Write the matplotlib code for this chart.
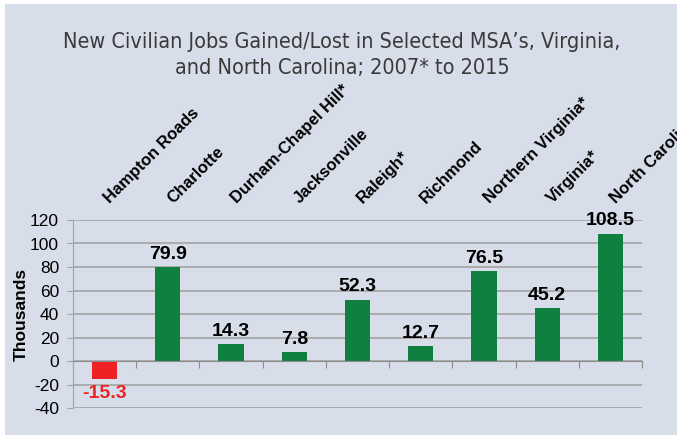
import numpy as np
import matplotlib
matplotlib.use('Agg')
import matplotlib.pyplot as plt
from matplotlib.patches import Rectangle
from matplotlib import font_manager

categories = ['Hampton Roads', 'Charlotte', 'Durham-Chapel Hill*', 'Jacksonville',
              'Raleigh*', 'Richmond', 'Northern Virginia*', 'Virginia*', 'North Carolina*']
values = [-15.3, 79.9, 14.3, 7.8, 52.3, 12.7, 76.5, 45.2, 108.5]
yticks = [-40, -20, 0, 20, 40, 60, 80, 100, 120]

BG = '#D8DDEA'
GREEN = '#108040'
RED = '#EE2124'
GRID = '#A3A3A3'

plt.rcParams['font.family'] = ['Liberation Sans', 'DejaVu Sans']

# narrow upright face for the title if one is installed
title_font = None
for f in font_manager.fontManager.ttflist:
    narrow = (f.stretch in ('condensed', 'semi-condensed', 'extra-condensed')
              or 'Narrow' in f.name or 'Condensed' in f.name)
    if narrow and f.style == 'normal' and f.weight in (400, 'normal', 'regular', 'book'):
        title_font = f
        break

fig = plt.figure(figsize=(6.77, 4.4), dpi=100)
fig.patch.set_facecolor('white')
fig.patches.append(Rectangle((5 / 677, 5 / 440), 1, 1 - 9 / 440, transform=fig.transFigure,
                             facecolor=BG, edgecolor='none', zorder=-10))

ax = fig.add_axes([73 / 677, 32 / 440, 569 / 677, 188 / 440])
ax.set_facecolor(BG)

x = np.arange(len(categories))
colors = [RED if v < 0 else GREEN for v in values]
ax.bar(x, values, width=0.4, color=colors, zorder=3)

ax.set_xlim(-0.5, len(categories) - 0.5)
ax.set_ylim(-40, 120)
ax.set_yticks(yticks)
ax.set_yticklabels([str(t) for t in yticks], fontsize=12.5)
ax.yaxis.grid(True, color=GRID, linewidth=1.2, zorder=0)
ax.set_axisbelow(True)

for s in ['top', 'right']:
    ax.spines[s].set_visible(False)
ax.spines['left'].set_color(GRID)
ax.spines['bottom'].set_position(('data', 0))
ax.spines['bottom'].set_color('#8C8C8C')
ax.spines['bottom'].set_zorder(4)
ax.set_xticks(np.arange(len(categories) + 1) - 0.5)
ax.set_xticklabels([])
ax.tick_params(axis='x', length=5, color='#8C8C8C')
ax.tick_params(axis='y', length=4, color=GRID, pad=6)

ax.set_ylabel('Thousands', fontsize=12.5, fontweight='bold', labelpad=1)

for xi, v in zip(x, values):
    if v < 0:
        ax.annotate(f'{v:.1f}', (xi, v), xytext=(0, -4), textcoords='offset points',
                    ha='center', va='top', fontsize=14, fontweight='bold', color=RED)
    else:
        ax.annotate(f'{v:.1f}', (xi, v), xytext=(0, 3), textcoords='offset points',
                    ha='center', va='bottom', fontsize=14, fontweight='bold', color='black')

for xi, name in zip(x, categories):
    ax.text(xi + 0.12, 132, name, rotation=45, rotation_mode='anchor', ha='left', va='bottom',
            fontsize=12, fontweight='bold', clip_on=False)

title = 'New Civilian Jobs Gained/Lost in Selected MSA\u2019s, Virginia,\nand North Carolina; 2007* to 2015'
if title_font is not None:
    fig.text(0.505, 0.875, title, ha='center', va='center', color='#3A3A3A', linespacing=1.4,
             fontproperties=font_manager.FontProperties(fname=title_font.fname, size=15.5))
else:
    fig.text(0.505, 0.875, title, ha='center', va='center', fontsize=15.5, color='#3A3A3A',
             linespacing=1.4, family=['Roboto', 'DejaVu Sans'])

fig.savefig('out.png', dpi=100)
